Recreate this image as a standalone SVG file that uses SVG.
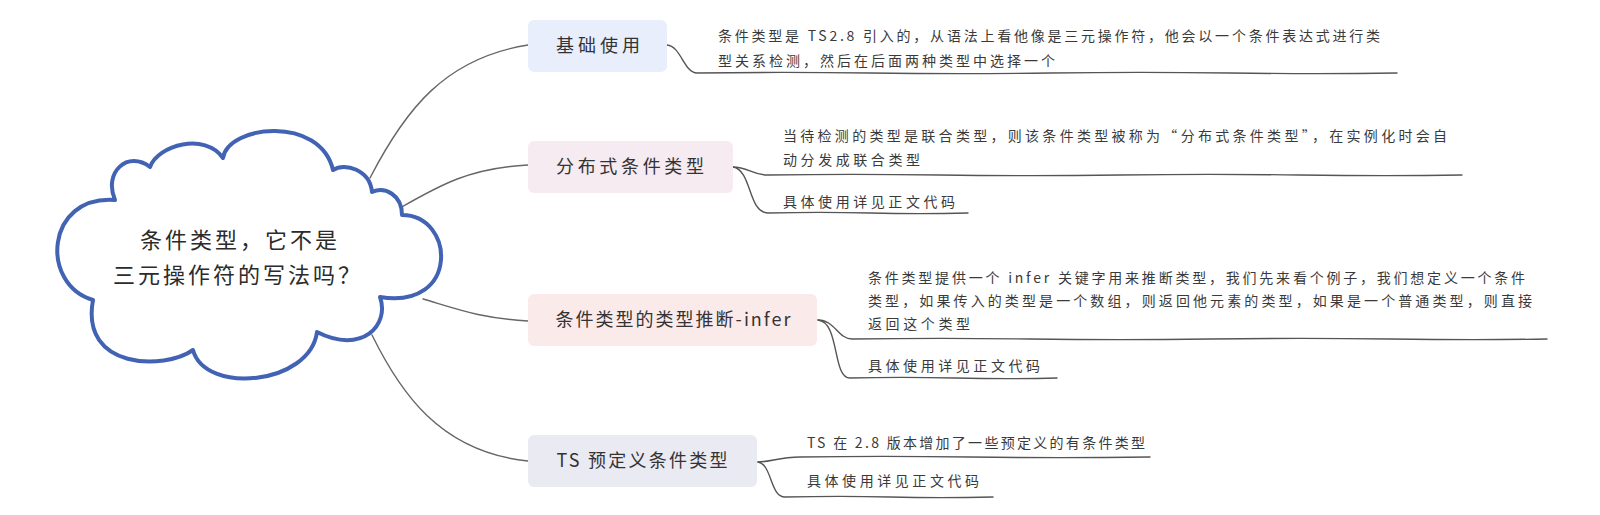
<svg xmlns="http://www.w3.org/2000/svg" width="1600" height="515" viewBox="0 0 1600 515">
<style>
  .bg { fill: #ffffff; }
  .cloud { fill: #ffffff; stroke: #4262b4; stroke-width: 4; stroke-linejoin: round; }
  .conn { fill: none; stroke: #666666; stroke-width: 1.4; stroke-linecap: round; }
  .leafline { fill: none; stroke: #555555; stroke-width: 1.4; stroke-linecap: round; }
  .box { stroke: none; }
  .t-main { font-family: "Noto Sans CJK SC", "Noto Sans", sans-serif; font-size: 22px; fill: #2b2b2b; letter-spacing: 3px; }
  .t-box { font-family: "Noto Sans CJK SC", "Noto Sans", sans-serif; font-size: 18px; fill: #333333; text-anchor: middle; }
  .t-leaf { font-family: "Noto Sans CJK SC", "Noto Sans", sans-serif; font-size: 14px; fill: #3a3a3a; }
</style>
<rect class="bg" x="0" y="0" width="1600" height="515"/>

<g id="connectors">
  <path class="conn" d="M370,178 C405,110 445,58 528,45"/>
  <path class="conn" d="M400,208 C440,185 470,168 528,165"/>
  <path class="conn" d="M423,299 C460,310 480,318 528,321"/>
  <path class="conn" d="M372,335 C400,392 440,452 528,461"/>

  <path class="leafline" d="M667,45 C681,46 684,73 697,73 Q780,71.8 870,73 T1050,73 T1230,73 T1397,73"/>
  <path class="leafline" d="M733,167 C748,167 752,175 768,175 Q850,173.8 940,175 T1120,175 T1300,175 T1462,175"/>
  <path class="leafline" d="M733,167 C752,170 748,213 768,213 Q820,211.8 870,213 T968,213"/>
  <path class="leafline" d="M818,320 C835,320 838,339 852,339 Q940,337.8 1030,339 T1210,339 T1390,339 T1547,339"/>
  <path class="leafline" d="M818,320 C840,322 832,378 850,378 Q900,376.8 955,378 T1057,378"/>
  <path class="leafline" d="M758,462 C770,462 780,457 800,457 Q880,455.8 970,457 T1150,457"/>
  <path class="leafline" d="M758,462 C772,464 770,497 785,497 Q840,495.8 890,497 T993,497"/>
</g>

<g id="root">
  <path class="cloud" d="M115,200 C103,172 128,150 150,167 C158,145 205,132 223,158 C228,125 320,115 333,170 C345,162 370,170 372,192 C385,186 402,195 402,215 C455,215 460,310 380,297 C390,325 362,355 317,332 C310,385 205,395 193,350 C165,370 80,370 93,300 C40,285 45,195 115,200 Z"/>
  <text class="t-main" x="140" y="248">条件类型，它不是</text>
  <text class="t-main" x="113" y="283">三元操作符的写法吗？</text>
</g>

<g id="node-basic">
  <rect class="box" x="528" y="20" width="139" height="52" rx="6" fill="#e8eefc"/>
  <text class="t-box" x="598" y="52" textLength="84" lengthAdjust="spacing">基础使用</text>
</g>
<g id="leaf-basic">
  <text class="t-leaf" x="718" y="41" textLength="662" lengthAdjust="spacing">条件类型是 TS2.8 引入的，从语法上看他像是三元操作符，他会以一个条件表达式进行类</text>
  <text class="t-leaf" x="718" y="66" textLength="337" lengthAdjust="spacing">型关系检测，然后在后面两种类型中选择一个</text>
</g>

<g id="node-distributive">
  <rect class="box" x="528" y="141" width="205" height="52" rx="6" fill="#f6ebf0"/>
  <text class="t-box" x="630" y="173" textLength="148" lengthAdjust="spacing">分布式条件类型</text>
</g>
<g id="leaf-distributive">
  <text class="t-leaf" x="783" y="141" textLength="664" lengthAdjust="spacing">当待检测的类型是联合类型，则该条件类型被称为“分布式条件类型”，在实例化时会自</text>
  <text class="t-leaf" x="783" y="165" textLength="137" lengthAdjust="spacing">动分发成联合类型</text>
  <text class="t-leaf" x="783" y="207" textLength="172" lengthAdjust="spacing">具体使用详见正文代码</text>
</g>

<g id="node-infer">
  <rect class="box" x="528" y="294" width="289" height="52" rx="6" fill="#fbeaea"/>
  <text class="t-box" x="673" y="326" textLength="235" lengthAdjust="spacing">条件类型的类型推断-infer</text>
</g>
<g id="leaf-infer">
  <text class="t-leaf" x="868" y="283" textLength="657" lengthAdjust="spacing">条件类型提供一个 infer 关键字用来推断类型，我们先来看个例子，我们想定义一个条件</text>
  <text class="t-leaf" x="868" y="306" textLength="664" lengthAdjust="spacing">类型，如果传入的类型是一个数组，则返回他元素的类型，如果是一个普通类型，则直接</text>
  <text class="t-leaf" x="868" y="329" textLength="102" lengthAdjust="spacing">返回这个类型</text>
  <text class="t-leaf" x="868" y="371" textLength="172" lengthAdjust="spacing">具体使用详见正文代码</text>
</g>

<g id="node-predefined">
  <rect class="box" x="528" y="435" width="229" height="52" rx="6" fill="#eaeaf2"/>
  <text class="t-box" x="642" y="467" textLength="171" lengthAdjust="spacing">TS 预定义条件类型</text>
</g>
<g id="leaf-predefined">
  <text class="t-leaf" x="807" y="448" textLength="338" lengthAdjust="spacing">TS 在 2.8 版本增加了一些预定义的有条件类型</text>
  <text class="t-leaf" x="807" y="486" textLength="172" lengthAdjust="spacing">具体使用详见正文代码</text>
</g>
</svg>
